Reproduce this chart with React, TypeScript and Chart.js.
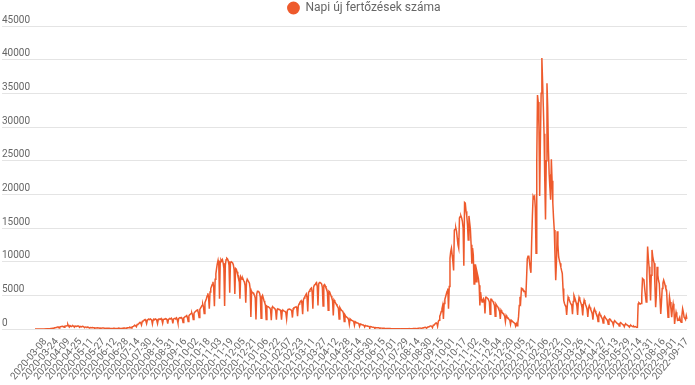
import React, { useEffect, useRef } from 'react';
import { Chart, registerables } from 'chart.js';

Chart.register(...registerables);

const SERIES_LABEL = 'Napi új fertőzések száma';
const LINE_COLOR = '#ee5a2c';
const FIRST_DAY = '2020-02-23';
const LAST_DAY = '2022-09-17';
// days that have no data point in the source series
const MISSING_RANGES: Array<[string, string]> = [
  ['2021-07-02', '2021-07-13'],
  ['2022-05-30', '2022-06-28'],
  ['2022-07-24', '2022-07-24'],
];
const LABEL_START = 14; // 2020-03-08 is the first labelled category
const LABEL_EVERY = 16;
const Y_MAX = 45000;
const Y_STEP = 5000;

// daily new infections
const dailyCases: number[] = [
  0, 0, 0, 0, 0, 0, 0,
  0, 0, 0, 0, 2, 0, 6,
  20, 14, 35, 30, 39, 40, 50,
  60, 80, 100, 120, 70, 150, 180,
  200, 230, 250, 280, 280, 150, 300, 350,
  380, 400, 420, 350, 250, 420, 450,
  450, 500, 700, 450, 300, 500, 420,
  400, 450, 500, 420, 280, 450, 400,
  400, 420, 480, 400, 250, 380, 350,
  350, 400, 380, 300, 200, 300, 280,
  250, 280, 260, 200, 150, 220, 200,
  200, 220, 200, 180, 120, 160, 150,
  150, 180, 160, 140, 90, 130, 120,
  130, 150, 140, 120, 120, 80, 110, 100,
  100, 120, 110, 90, 60, 90, 80,
  90, 110, 100, 80, 60, 80, 90,
  100, 120, 110, 90, 70, 100, 110,
  120, 140, 150, 130, 90, 150, 170,
  180, 200, 250, 220, 150, 300, 350,
  400, 500, 550, 480, 350, 650, 700,
  750, 900, 1000, 900, 600, 1100, 1200,
  1250, 1350, 1400, 1200, 800, 1300, 1400,
  1450, 1400, 1500, 1450, 1300, 750, 1350, 1450,
  1400, 1500, 1450, 1250, 800, 1400, 1500,
  1500, 1450, 1550, 1300, 850, 1400, 1450,
  1500, 1550, 1500, 1350, 800, 1450, 1500,
  1550, 1500, 1600, 1400, 850, 1500, 1550,
  1600, 1550, 1650, 1400, 900, 1550, 1650,
  1700, 1650, 1700, 1500, 950, 1650, 1750,
  1850, 1900, 2000, 1700, 1100, 1950, 2100,
  2200, 2300, 2400, 2100, 1400, 2300, 2500,
  2600, 2700, 2800, 2850, 2400, 1700, 2900, 3100,
  3300, 3500, 3700, 3300, 2300, 3900, 4200,
  4500, 4900, 5300, 4700, 3000, 5500, 6000,
  6300, 6600, 7000, 6200, 3400, 7400, 8200,
  9000, 9700, 10200, 9500, 4500, 10000, 10300,
  10100, 10300, 9800, 9000, 3400, 9500, 10300,
  10500, 10400, 10100, 9500, 5400, 9900, 10000,
  9900, 9800, 9500, 8800, 5200, 9000, 8900,
  8500, 8000, 7900, 7400, 4500, 7800, 7600,
  7400, 7500, 7200, 7000, 6500, 3900, 7000, 7400,
  7400, 7000, 6800, 6000, 1800, 5600, 5400,
  5400, 5200, 5000, 4600, 1400, 5200, 5600,
  5600, 5500, 5300, 4700, 1600, 4800, 5000,
  4600, 4200, 3900, 3500, 1400, 3400, 3300,
  3300, 3200, 3100, 2900, 1300, 3200, 3300,
  3200, 3100, 3000, 2700, 1400, 2900, 3000,
  2950, 2900, 2850, 2600, 1400, 2700, 2800,
  2700, 2650, 2600, 2400, 1500, 2700, 2900,
  2900, 2950, 2900, 2850, 2700, 1700, 3000, 3150,
  3200, 3250, 3300, 3100, 1900, 3400, 3700,
  3900, 4100, 4200, 3800, 2200, 4300, 4600,
  4800, 5000, 5200, 4700, 2600, 5400, 5600,
  5800, 6000, 6100, 5500, 3000, 6200, 6500,
  6600, 6800, 6900, 6300, 3500, 6700, 6900,
  6900, 6800, 6700, 6200, 3400, 6500, 6600,
  6400, 6100, 5900, 5400, 2800, 5600, 5500,
  5200, 4900, 4600, 4200, 2000, 4300, 4100,
  3900, 3700, 3500, 3300, 3100, 1500, 3200, 3000,
  2800, 2700, 2600, 2300, 1100, 2100, 1900,
  1800, 1700, 1600, 1400, 700, 1500, 1400,
  1300, 1250, 1200, 1100, 550, 1100, 1000,
  950, 900, 850, 800, 400, 750, 700,
  650, 620, 600, 550, 300, 520, 480,
  450, 430, 400, 380, 200, 350, 330,
  300, 280, 260, 240, 130, 220, 200,
  190, 180, 170, 150, 90, 140, 130,
  120, 110, 100, 95, 90, 50, 80, 80,
  80, 70, 70, 60, 30, 50, 50,
  40, 40, 35, 30, 20, 30, 30,
  30, 35, 30, 25, 15, 30, 35,
  40, 45, 40, 35, 20, 40, 45,
  50, 60, 55, 50, 25, 55, 60,
  70, 80, 75, 70, 35, 80, 90,
  110, 130, 140, 120, 60, 150, 170,
  200, 230, 250, 220, 110, 270, 300,
  350, 400, 450, 430, 400, 200, 550, 600,
  700, 800, 900, 850, 400, 1100, 1300,
  1900, 2200, 2600, 3000, 3500, 1500, 3800,
  4400, 4800, 5200, 5600, 6000, 3000, 6300,
  10500, 11500, 12000, 11000, 10000, 8700, 14700,
  14800, 15000, 14500, 13500, 12500, 12000, 16500,
  16700, 16800, 16500, 16000, 15000, 9400, 18800,
  18700, 17500, 16800, 15500, 13200, 16800, 15800,
  14800, 12500, 9700, 12000, 11000, 6700, 9500,
  9500, 7000, 8500, 8000, 7500, 6500, 3500, 5500,
  4500, 4000, 4300, 4500, 4200, 2300, 4700,
  4700, 4600, 4500, 4300, 4000, 2200, 4400,
  4400, 4200, 4100, 3800, 3500, 1900, 3700,
  3500, 3400, 3200, 2900, 2700, 1500, 2800,
  2600, 2400, 2300, 2100, 1900, 1100, 2000,
  1800, 1700, 1600, 1400, 1300, 700, 1300,
  1200, 1100, 1000, 900, 850, 450, 800,
  500, 900, 1800, 3500, 4800, 4200, 6050,
  6000, 5800, 5750, 5600, 5500, 4700, 7500, 10400,
  10800, 10900, 10000, 9000, 8350, 13000, 16750,
  19750, 19500, 19700, 18000, 11250, 25000, 34750,
  33700, 30000, 19750, 28000, 35000, 40250, 36700,
  33000, 29000, 22000, 16250, 25000, 36500, 33000,
  26700, 23000, 21000, 19200, 25200, 22000, 18750,
  16500, 14700, 11000, 7250, 10000, 14500, 12500,
  10700, 10200, 9750, 9200, 8700, 8250, 6000,
  4250, 3800, 3500, 3300, 2100, 3600, 4750,
  4500, 4200, 3900, 3700, 3500, 2200, 4100, 5000,
  4700, 4300, 3900, 3400, 2100, 3900, 4700,
  4400, 4000, 3700, 3200, 2000, 3600, 4300,
  4000, 3600, 3300, 2900, 1800, 3100, 3500,
  3200, 2900, 2600, 2300, 1400, 2600, 3000,
  2700, 2400, 2200, 1900, 1100, 2100, 2400,
  2100, 1900, 1700, 1500, 900, 1700, 1900,
  1700, 1500, 1400, 1200, 700, 1400, 1500,
  1400, 1200, 1100, 950, 550, 1100, 1200,
  1100, 950, 850, 800, 750, 450, 850, 950,
  850, 750, 650, 600, 350, 650, 750,
  650, 600, 500, 450, 300, 500, 550,
  450, 400, 350, 400, 300, 350, 300,
  280, 250, 3700, 3900, 3800, 3700, 3800,
  5000, 7500, 7400, 7250, 6000, 5000, 4000,
  8000, 12250, 10500, 9250, 7000, 4250, 8000,
  11750, 10800, 10200, 9750, 6500, 3250, 5000,
  9250, 8000, 7200, 6750, 4500, 2250, 4000,
  6000, 6800, 7250, 6900, 6500, 6000, 5750, 3500,
  1750, 3000, 4750, 4000, 3000, 1750, 3000,
  3750, 3000, 750, 1800, 2500, 2000, 1300,
  1300, 1500, 1750, 1200, 1000, 2000, 3000,
  2500, 1750, 1600, 1400, 2000, 1500,
];

function buildDays(): string[] {
  const out: string[] = [];
  const end = Date.parse(LAST_DAY + 'T00:00:00Z');
  for (let t = Date.parse(FIRST_DAY + 'T00:00:00Z'); t <= end; t += 86400000) {
    const s = new Date(t).toISOString().slice(0, 10);
    if (MISSING_RANGES.some(([a, b]) => s >= a && s <= b)) continue;
    out.push(s);
  }
  return out;
}

const days = buildDays();

const legendBand = {
  id: 'legendBand',
  beforeInit(chart: any) {
    const legend = chart.legend;
    if (!legend) return;
    const fit = legend.fit;
    legend.fit = function () {
      fit.call(this);
      this.height = 26;
    };
    const draw = legend.draw;
    legend.draw = function () {
      this.ctx.save();
      this.ctx.translate(3, 0);
      draw.call(this);
      this.ctx.restore();
    };
  },
};

export default function App() {
  const ref = useRef<HTMLCanvasElement | null>(null);

  useEffect(() => {
    if (!ref.current) return;
    const font = { family: 'Roboto', size: 10 };
    const chart = new Chart(ref.current, {
      type: 'line',
      data: {
        labels: days,
        datasets: [
          {
            label: SERIES_LABEL,
            data: dailyCases,
            borderColor: LINE_COLOR,
            backgroundColor: LINE_COLOR,
            borderWidth: 1.5,
            pointRadius: 0,
            pointHoverRadius: 0,
            tension: 0,
            fill: false,
          },
        ],
      },
      options: {
        animation: false,
        responsive: true,
        maintainAspectRatio: false,
        layout: { padding: { left: 2, right: 8, top: 0, bottom: 0 } },
        plugins: {
          legend: {
            position: 'top',
            fullSize: false,
            labels: {
              usePointStyle: true,
              pointStyle: 'circle',
              boxWidth: 12,
              boxHeight: 8,
              padding: 2,
              color: '#666',
              font: { family: 'Roboto', size: 12 },
            },
          },
          tooltip: { enabled: false },
        },
        scales: {
          x: {
            grid: { display: false, drawTicks: false },
            border: { display: false },
            afterFit: (s: any) => {
              s.height = 56;
              s.paddingLeft = 0;
              s.paddingRight = 0;
            },
            ticks: {
              autoSkip: false,
              maxRotation: 50,
              minRotation: 50,
              padding: 7,
              color: '#666',
              font,
              callback: (_v: any, i: number) =>
                i >= LABEL_START && (i - LABEL_START) % LABEL_EVERY === 0 ? days[i] : '',
            },
          },
          y: {
            min: 0,
            max: Y_MAX,
            border: { display: false },
            grid: { color: '#e4e4e4', tickLength: 33, drawTicks: true },
            afterFit: (s: any) => {
              s.width = 33;
            },
            ticks: {
              stepSize: Y_STEP,
              crossAlign: 'far',
              padding: 0,
              labelOffset: -6,
              color: '#666',
              font,
              callback: (v: any) => String(v),
            },
          },
        },
      },
      plugins: [legendBand],
    } as any);
    return () => chart.destroy();
  }, []);

  return (
    <div style={{ position: 'fixed', left: 0, top: 0, width: 695, height: 385 }}>
      <canvas ref={ref} />
    </div>
  );
}
